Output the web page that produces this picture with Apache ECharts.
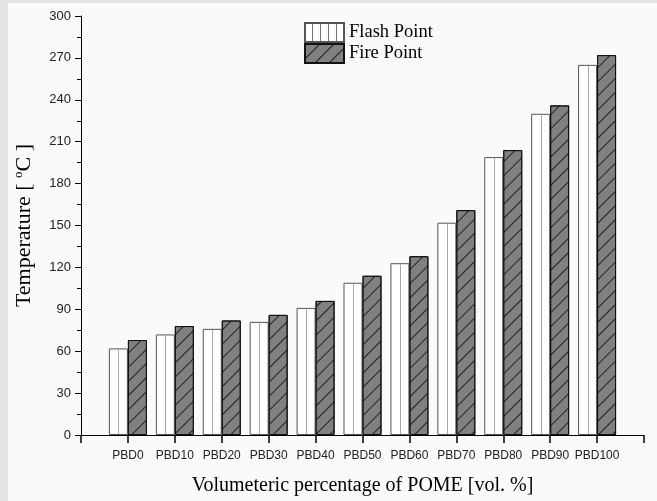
<!DOCTYPE html>
<html>
<head>
<meta charset="utf-8">
<script src="https://cdn.jsdelivr.net/npm/echarts@6/dist/echarts.min.js"></script>
<style>
  html, body { margin: 0; padding: 0; background: #e3e3e3; }
  #frame { position: absolute; left: 8px; top: 3px; width: 649px; height: 498px; background: #fafafa; }
  #chart { position: absolute; left: 0; top: 0; width: 657px; height: 501px; }
</style>
</head>
<body>
<div id="frame"></div>
<div id="chart"></div>
<script>
const categories = ['PBD0', 'PBD10', 'PBD20', 'PBD30', 'PBD40', 'PBD50', 'PBD60', 'PBD70', 'PBD80', 'PBD90', 'PBD100'];
const flashPoint = [62, 72, 76, 81, 91, 109, 123, 152, 199, 230, 265];
const firePoint  = [68, 78, 82, 86, 96, 114, 128, 161, 204, 236, 272];
const yTicks = { min: 0, max: 300, interval: 30 };

const BAR_W = 19;
const axisCats = [''].concat(categories, ['']);
const pad = arr => ['-'].concat(arr, ['-']);

const chart = echarts.init(document.getElementById('chart'), null, { renderer: 'canvas' });
chart.setOption({
  backgroundColor: 'transparent',
  animation: false,
  grid: { left: 81, right: 13, top: 16, bottom: 66, containLabel: false },
  legend: {
    orient: 'vertical',
    left: 299, top: 17,
    itemWidth: 39, itemHeight: 19, itemGap: 0,
    icon: 'rect',
    textStyle: { fontFamily: 'Liberation Serif', fontSize: 18.5, color: '#000' },
    data: [
      { name: 'Flash Point', itemStyle: { decal: { symbol: 'rect', symbolSize: 1, dashArrayX: [1, 0], dashArrayY: [1, 7], rotation: Math.PI / 2, color: 'rgba(0,0,0,0.55)' } } },
      { name: 'Fire Point' }
    ]
  },
  xAxis: {
    type: 'category',
    data: axisCats,
    boundaryGap: false,
    name: 'Volumeteric percentage of POME [vol. %]',
    nameLocation: 'middle',
    nameGap: 41,
    nameTextStyle: { fontFamily: 'Liberation Serif', fontSize: 20, color: '#000' },
    axisLine: { lineStyle: { color: '#000', width: 1 } },
    axisTick: { show: true, inside: false, length: 8, alignWithLabel: true, interval: 0, lineStyle: { color: '#000', width: 1.5 } },
    axisLabel: { interval: 0, margin: 15, fontFamily: 'Liberation Sans', fontSize: 12, color: '#222' },
    splitLine: { show: false }
  },
  yAxis: {
    type: 'value',
    min: yTicks.min, max: yTicks.max, interval: yTicks.interval,
    name: 'Temperature [ {sup|o}C ]',
    nameLocation: 'middle',
    nameGap: 45,
    nameTextStyle: {
      fontFamily: 'Liberation Serif', fontSize: 22, color: '#000', lineHeight: 24,
      rich: {
        sup: { fontFamily: 'Liberation Serif', fontSize: 13, color: '#000', verticalAlign: 'top', lineHeight: 24, padding: [0, 0, 8, 0] }
      }
    },
    axisLine: { show: true, lineStyle: { color: '#000', width: 1 } },
    axisTick: { show: true, inside: false, length: 6, lineStyle: { color: '#000' } },
    minorTick: { show: true, splitNumber: 2, length: 4, lineStyle: { color: '#000' } },
    axisLabel: { margin: 10, fontFamily: 'Liberation Sans', fontSize: 13, color: '#222' },
    splitLine: { show: false }
  },
  series: [
    {
      name: 'Flash Point',
      type: 'bar',
      data: pad(flashPoint),
      barWidth: BAR_W,
      barGap: '0%',
      itemStyle: { color: '#ffffff', borderColor: '#555', borderWidth: 1 },
      z: 2
    },
    {
      name: 'Fire Point',
      type: 'bar',
      data: pad(firePoint),
      barWidth: BAR_W,
      barGap: '0%',
      itemStyle: {
        color: '#808080', borderColor: '#111', borderWidth: 1,
        decal: { symbol: 'rect', symbolSize: 1, dashArrayX: [1, 0], dashArrayY: [1, 9], rotation: -Math.PI / 4, color: 'rgba(0,0,0,0.75)' }
      },
      z: 2
    },
    {
      name: 'flashCenter',
      type: 'custom',
      silent: true,
      z: 3,
      encode: { x: 0, y: 1 },
      data: flashPoint.map((v, i) => [i + 1, v]),
      renderItem: function (params, api) {
        const base = api.coord([api.value(0), 0]);
        const top = api.coord([api.value(0), api.value(1)]);
        const x = Math.round(base[0] - BAR_W / 2) + 0.5;
        return {
          type: 'line',
          shape: { x1: x, y1: top[1] + 1, x2: x, y2: base[1] - 1 },
          style: { stroke: '#a8a8a8', lineWidth: 1 }
        };
      }
    }
  ]
});
</script>
</body>
</html>
